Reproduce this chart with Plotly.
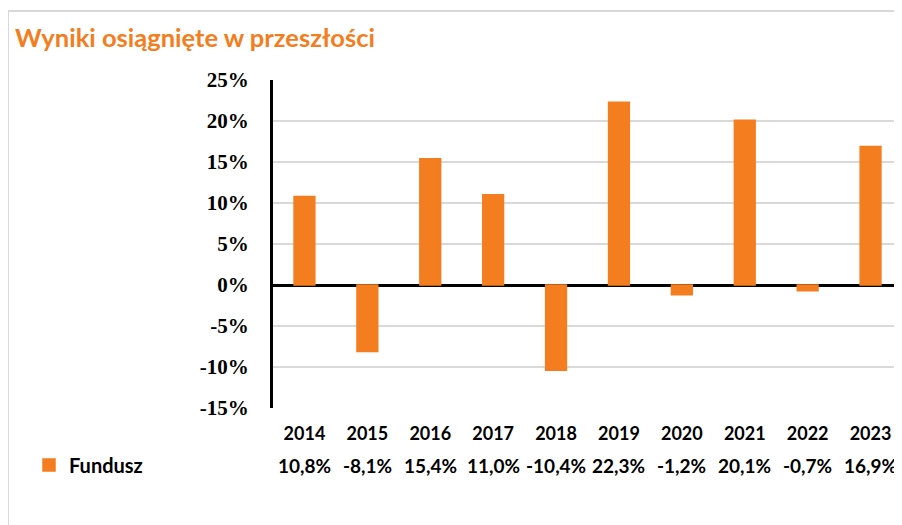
import plotly.graph_objects as go

years = ["2014", "2015", "2016", "2017", "2018", "2019", "2020", "2021", "2022", "2023"]
fund_values = [10.8, -8.1, 15.4, 11.0, -10.4, 22.3, -1.2, 20.1, -0.7, 16.9]
series_name = "Fundusz"
title_text = "Wyniki osiągnięte w przeszłości"
y_ticks = [-15, -10, -5, 0, 5, 10, 15, 20, 25]
y_tick_text = ["%d%%" % t for t in y_ticks]

ORANGE = "#F47D20"
OFF = 8  # page body margin
W, H = 902 - OFF, 525 - OFF
ML, MR, MT, MB = 273 - OFF, 0, 80 - OFF, 117
PW = W - ML - MR
PH = H - MT - MB

def fmt(v):
    return ("%.1f" % v).replace(".", ",") + "%"

fig = go.Figure()
fig.add_trace(go.Bar(
    x=years, y=fund_values, name=series_name,
    marker=dict(color=ORANGE, line=dict(width=1.5, color=ORANGE)),
    showlegend=True,
))

annotations = []
for i, v in enumerate(fund_values):
    annotations.append(dict(
        x=i, y=(MT + PH - (465 - OFF)) / PH, xref="x", yref="paper",
        text=fmt(v), showarrow=False,
        font=dict(family="Lato", size=19, color="#000000", weight="bold"),
        xanchor="center", yanchor="middle",
    ))

fig.update_layout(
    width=W, height=H,
    margin=dict(l=ML, r=MR, t=MT, b=MB),
    paper_bgcolor="white", plot_bgcolor="white",
    bargap=0.67,
    title=dict(
        text=title_text, x=(15 - OFF) / W, xref="container", xanchor="left",
        y=1 - (38 - OFF) / H, yref="container", yanchor="middle",
        font=dict(family="Lato", size=25.5, color=ORANGE, weight="bold"),
    ),
    xaxis=dict(
        type="category", categoryorder="array", categoryarray=years,
        range=[-0.5, len(years) - 0.5],
        showgrid=False, showline=False,
        ticks="outside", ticklen=9, tickcolor="rgba(0,0,0,0)",
        tickfont=dict(family="Lato", size=18, color="#000000", weight="bold"),
    ),
    yaxis=dict(
        range=[-15, 25], tickmode="array", tickvals=y_ticks, ticktext=y_tick_text,
        showgrid=True, gridcolor="#d9d9d9", gridwidth=1.5,
        zeroline=True, zerolinecolor="#000000", zerolinewidth=2.5,
        showline=True, linecolor="#000000", linewidth=3,
        ticks="outside", ticklen=17, tickcolor="rgba(0,0,0,0)",
        tickfont=dict(family="Liberation Serif", size=21, color="#000000", weight="bold"),
    ),
    legend=dict(
        xref="container", yref="container",
        x=(29 - OFF) / W, y=1 - (465 - OFF) / H, xanchor="left", yanchor="middle",
        font=dict(family="Lato", size=20, color="#000000", weight="bold"),
        bgcolor="rgba(0,0,0,0)",
    ),
    annotations=annotations,
    shapes=[dict(
        type="rect", xref="paper", yref="paper",
        x0=(7 - OFF - ML + 1) / PW, x1=1.05, y0=-0.6, y1=(MT + PH - 3) / PH,
        line=dict(color="#d9d9d9", width=2), fillcolor="rgba(0,0,0,0)", layer="below",
    )],
)

fig.write_html("out.html")
